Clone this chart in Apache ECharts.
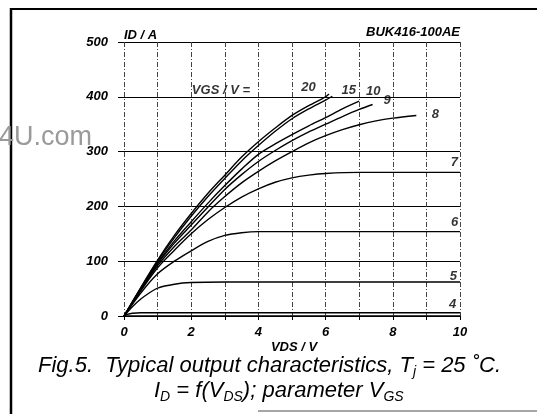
<!DOCTYPE html>
<html>
<head>
<meta charset="utf-8">
<script src="https://cdn.jsdelivr.net/npm/echarts@6.0.0/dist/echarts.min.js"></script>
<style>
  html, body { margin: 0; padding: 0; background: #fff; }
  #main { width: 537px; height: 414px; }
</style>
</head>
<body>
<div id="main"></div>
<script>
// output characteristics, ID (A) against VDS (V), one curve per VGS
var vgs20 = [[0,0],[0.5,52],[1,102],[1.5,147],[2,187],[2.5,224],[3,257],[3.5,290],[4,318],[4.5,343],[5,366],[5.5,384],[6,400],[6.1,405]];
var vgs15 = [[0,0],[0.5,51],[1,100],[1.5,143],[2,182],[2.5,218],[3,251],[3.5,283],[4,311],[4.5,337],[5,360],[5.5,378],[6,394],[6.2,401]];
var vgs10 = [[0,0],[0.5,50],[1,97],[1.5,137],[2,172],[2.5,206],[3,238],[3.5,268],[4,295],[4.5,314],[5,331],[5.5,347],[6,362],[6.5,378],[7,392]];
var vgs9  = [[0,0],[0.5,49],[1,95],[1.5,133],[2,166],[2.5,199],[3,231],[3.5,258],[4,282],[4.5,302],[5,320],[5.5,336],[6,350],[6.5,364],[7,377],[7.4,386]];
var vgs8  = [[0,0],[0.5,48],[1,92],[1.5,127],[2,157],[2.5,190],[3,218],[3.5,243],[4,264],[4.5,283],[5,300],[5.5,316],[6,329],[6.5,340],[7,349],[7.5,356],[8,361],[8.7,366]];
var vgs7  = [[0,0],[0.5,46],[1,88],[1.5,120],[2,150],[2.5,176],[3,198],[3.5,217],[4,232],[4.5,244],[5,252],[5.5,257],[6,260],[7,262],[8,262],[9,262],[10,262]];
var vgs6  = [[0,0],[0.5,42],[1,77],[1.5,100],[2,119],[2.5,136],[3,147],[3.5,152],[4,154],[5,154],[10,154]];
var vgs5  = [[0,0],[0.25,17],[0.5,31],[0.75,42],[1,51],[1.5,58],[2,61],[3,62],[10,62]];
var vgs4  = [[0,0],[0.1,3],[0.25,5],[0.5,6],[1,6],[10,6]];

var curves = [vgs20, vgs15, vgs10, vgs9, vgs8, vgs7, vgs6, vgs5, vgs4];

// parameter labels next to the curves: [VDS, ID, text]
var curveLabels = [[5.49,417,'20'],[6.69,412,'15'],[7.42,410,'10'],[7.83,394,'9'],[9.27,367,'8'],
                   [9.83,281,'7'],[9.84,171,'6'],[9.8,73,'5'],[9.78,22,'4']];
var vgsTitle = [2.02, 411, 'VGS / V ='];

var xTicks = [0, 2, 4, 6, 8, 10];

var FONT = "'Liberation Sans', Arial, sans-serif";

var dom = document.getElementById('main');
var myChart = echarts.init(dom);

var series = curves.map(function (d) {
  return {
    type: 'line',
    data: d,
    smooth: 0.3,
    showSymbol: false,
    silent: true,
    lineStyle: { color: '#000', width: 1.4 },
    z: 5
  };
});

series.push({
  type: 'scatter',
  symbolSize: 0,
  silent: true,
  data: curveLabels,
  label: {
    show: true,
    position: 'inside',
    formatter: function (p) { return p.data[2]; },
    color: '#000',
    fontFamily: FONT,
    fontSize: 13,
    fontWeight: 'bold',
    fontStyle: 'italic'
  },
  z: 6
});

series.push({
  type: 'scatter',
  symbolSize: 0,
  silent: true,
  data: [vgsTitle],
  label: {
    show: true,
    position: 'inside',
    align: 'left',
    formatter: function (p) { return p.data[2]; },
    color: '#000',
    fontFamily: FONT,
    fontSize: 13,
    fontWeight: 'bold',
    fontStyle: 'italic'
  },
  z: 6
});

var option = {
  backgroundColor: '#fff',
  animation: false,
  grid: { left: 124, right: 77, top: 42, bottom: 98 },
  xAxis: {
    type: 'value',
    min: 0,
    max: 10,
    interval: 1,
    axisLine: { show: true, lineStyle: { color: '#000', width: 1.5 } },
    axisTick: { show: true, length: 4, lineStyle: { color: '#000' } },
    axisLabel: {
      margin: 10,
      color: '#000',
      fontFamily: FONT,
      fontSize: 13,
      fontWeight: 'bold',
      fontStyle: 'italic',
      formatter: function (v) { return xTicks.indexOf(v) >= 0 ? String(v) : ''; }
    },
    splitLine: { show: true, lineStyle: { color: '#444', width: 1, type: [5, 2, 1, 2] } }
  },
  yAxis: {
    type: 'value',
    min: 0,
    max: 500,
    interval: 100,
    axisLine: { show: false },
    axisTick: { show: true, length: 6, lineStyle: { color: '#000' } },
    axisLabel: {
      margin: 16,
      color: '#000',
      fontFamily: FONT,
      fontSize: 13,
      fontWeight: 'bold',
      fontStyle: 'italic'
    },
    splitLine: { show: true, lineStyle: { color: '#000', width: 1 } }
  },
  graphic: [
    // page frame
    { type: 'line', shape: { x1: 11, y1: 8, x2: 11, y2: 414 }, style: { stroke: '#000', lineWidth: 2.5 } },
    { type: 'line', shape: { x1: 10, y1: 9, x2: 537, y2: 9 }, style: { stroke: '#000', lineWidth: 2 } },
    { type: 'line', shape: { x1: 258, y1: 411, x2: 537, y2: 411 }, style: { stroke: '#888', lineWidth: 1.5 } },
    // watermark
    { type: 'text', x: 92, y: 138, style: { text: 'DataSheet4U.com', align: 'right', verticalAlign: 'middle',
        fill: '#9a9a9a', font: '27px ' + FONT } },
    // axis names and type number
    { type: 'text', x: 124, y: 35, style: { text: 'ID / A', align: 'left', verticalAlign: 'middle',
        fill: '#000', font: 'italic bold 13px ' + FONT } },
    { type: 'text', x: 460, y: 32, style: { text: 'BUK416-100AE', align: 'right', verticalAlign: 'middle',
        fill: '#000', font: 'italic bold 13px ' + FONT } },
    { type: 'text', x: 294, y: 347, style: { text: 'VDS / V', align: 'center', verticalAlign: 'middle',
        fill: '#000', font: 'italic bold 13px ' + FONT } },
    // caption
    { type: 'text', x: 38, y: 366, style: {
        text: 'Fig.5.  Typical output characteristics, T{sub|j} = 25 ˚C.',
        verticalAlign: 'middle', fill: '#000', fontFamily: FONT, fontSize: 22, fontStyle: 'italic', lineHeight: 26,
        rich: { sub: { fontSize: 14, fontStyle: 'italic', fontFamily: FONT, lineHeight: 15, verticalAlign: 'bottom' } } } },
    { type: 'text', x: 154, y: 391, style: {
        text: 'I{sub|D} = f(V{sub|DS}); parameter V{sub|GS}',
        verticalAlign: 'middle', fill: '#000', fontFamily: FONT, fontSize: 22, fontStyle: 'italic', lineHeight: 26,
        rich: { sub: { fontSize: 14, fontStyle: 'italic', fontFamily: FONT, lineHeight: 15, verticalAlign: 'bottom' } } } }
  ],
  series: series
};

if (option && typeof option === 'object') {
  myChart.setOption(option, true);
}
</script>
</body>
</html>
